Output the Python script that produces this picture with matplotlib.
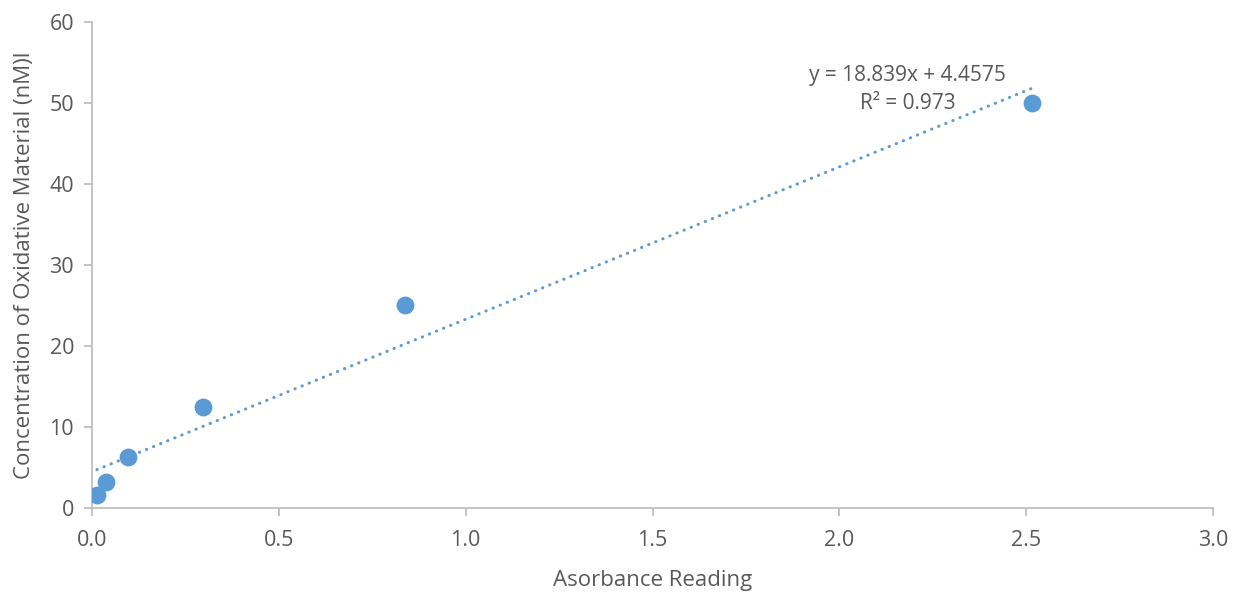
import matplotlib
matplotlib.use("Agg")
import matplotlib.pyplot as plt
import numpy as np

absorbance = [0.013, 0.038, 0.097, 0.298, 0.838, 2.516]
concentration = [1.5625, 3.125, 6.25, 12.5, 25.0, 50.0]
slope = 18.839
intercept = 4.4575
r2 = 0.973
x_ticks = [0.0, 0.5, 1.0, 1.5, 2.0, 2.5, 3.0]
y_ticks = [0, 10, 20, 30, 40, 50, 60]

plt.rcParams['font.family'] = ['Open Sans', 'DejaVu Sans']
text_color = '#595959'
blue = '#5B9BD5'
spine_color = '#BFBFBF'

fig = plt.figure(figsize=(12.34, 5.92), dpi=100)
ax = fig.add_axes([0.0746, 0.1424, 0.9084, 0.8199])

xs = np.array([min(absorbance), max(absorbance)])
ax.plot(xs, slope * xs + intercept, color=blue, lw=2.2,
        linestyle=(0, (0.1, 2.4)), dash_capstyle='round', zorder=2)
ax.scatter(absorbance, concentration, s=165, color=blue, zorder=3, linewidths=0)

ax.set_xlim(0, 3.0)
ax.set_ylim(0, 60)
ax.set_xticks(x_ticks)
ax.set_xticklabels([f"{t:.1f}" for t in x_ticks])
ax.set_yticks(y_ticks)
ax.set_yticklabels([str(t) for t in y_ticks])

for s in ['top', 'right']:
    ax.spines[s].set_visible(False)
for s in ['left', 'bottom']:
    ax.spines[s].set_color(spine_color)
    ax.spines[s].set_linewidth(1.3)
ax.tick_params(axis='both', colors=spine_color, labelcolor=text_color,
               labelsize=15.5, length=6, width=1.3, direction='out')
ax.tick_params(axis='x', pad=10)
ax.tick_params(axis='y', pad=7)

ax.set_xlabel('Asorbance Reading', fontsize=16, color=text_color, labelpad=14)
ax.set_ylabel('Concentration of Oxidative Material (nM)l', fontsize=16,
              color=text_color, labelpad=10)

ax.text(2.182, 53.4, f"y = {slope}x + {intercept}", ha='center', va='center',
        fontsize=15, color=text_color)
ax.text(2.182, 50.0, f"R² = {r2}", ha='center', va='center',
        fontsize=15, color=text_color)

fig.savefig('out.png', dpi=100)
